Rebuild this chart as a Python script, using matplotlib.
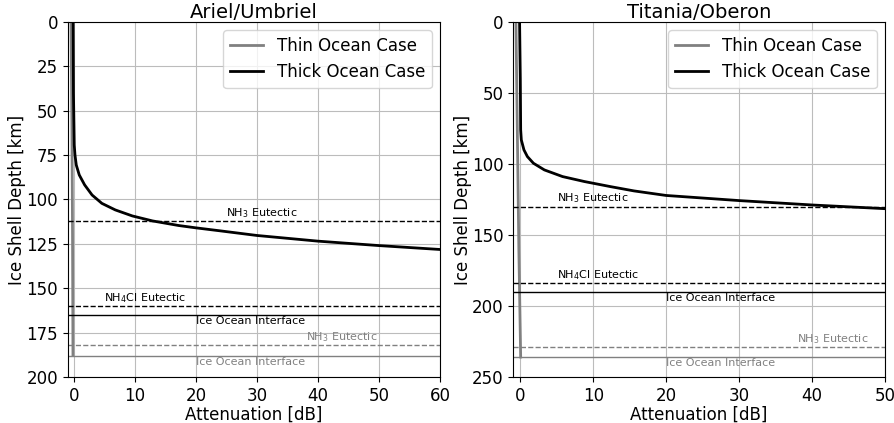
import matplotlib
matplotlib.use("Agg")
import matplotlib.pyplot as plt

# Ariel/Umbriel: attenuation [dB] vs depth [km]
au_thin_att = [-0.45, -0.3, -0.2, -0.13]
au_thin_depth = [0, 60, 120, 188]
au_thick_att = [-0.1, -0.05, 0.08, 0.2, 0.41, 0.9, 1.78, 3.0, 4.6, 6.8, 9.6, 12.9,
                17.2, 20, 24, 30, 40, 50, 60]
au_thick_depth = [0, 40, 69.3, 75, 80.6, 86.2, 91.8, 97.5, 102.2, 105.9, 109.3, 112.1,
                  114.7, 116, 117.7, 120.3, 123.5, 126, 128.2]

# Titania/Oberon
to_thin_att = [-0.6, -0.4, -0.2, 0.05]
to_thin_depth = [0, 80, 160, 236]
to_thick_att = [-0.1, 0.0, 0.05, 0.14, 0.5, 0.97, 1.8, 3.3, 5.8, 8.8, 12.4, 15.6,
                20, 30, 40, 50]
to_thick_depth = [0, 40, 76, 83.1, 90.1, 94.8, 99.5, 104.2, 108.9, 112.4, 116, 119,
                  122.2, 125.8, 128.9, 131.5]

# horizontal markers: (depth, label, colour, style, label x, above/below)
au_levels = [
    (112, r"NH$_3$ Eutectic", "black", "--", 25, "above"),
    (160, r"NH$_4$Cl Eutectic", "black", "--", 5, "above"),
    (165, "Ice Ocean Interface", "black", "-", 20, "below"),
    (182, r"NH$_3$ Eutectic", "gray", "--", 38, "above"),
    (188, "Ice Ocean Interface", "gray", "-", 20, "below"),
]
to_levels = [
    (130, r"NH$_3$ Eutectic", "black", "--", 5, "above"),
    (184, r"NH$_4$Cl Eutectic", "black", "--", 5, "above"),
    (190, "Ice Ocean Interface", "black", "-", 20, "below"),
    (229, r"NH$_3$ Eutectic", "gray", "--", 38, "above"),
    (236, "Ice Ocean Interface", "gray", "-", 20, "below"),
]

fig = plt.figure(figsize=(8.95, 4.23), dpi=100)
ax1 = fig.add_axes([0.0756, 0.109, 0.4160, 0.839])
ax2 = fig.add_axes([0.5732, 0.109, 0.4156, 0.839])


def panel(ax, title, thin_x, thin_y, thick_x, thick_y, levels, xmax, ymax, ystep, off):
    ax.plot(thin_x, thin_y, color="gray", lw=2, label="Thin Ocean Case")
    ax.plot(thick_x, thick_y, color="black", lw=2, label="Thick Ocean Case")
    for d, txt, c, ls, tx, pos in levels:
        ax.axhline(d, color=c, ls=ls, lw=1)
        if pos == "above":
            ax.text(tx, d - off, txt, color=c, fontsize=8, va="bottom")
        else:
            ax.text(tx, d + off, txt, color=c, fontsize=8, va="top")
    ax.set_xlim(-1, xmax)
    ax.set_ylim(ymax, 0)
    ax.set_yticks(range(0, ymax + 1, ystep))
    ax.set_xticks(range(0, xmax + 1, 10))
    ax.tick_params(labelsize=12)
    ax.grid(True, color="#bcbcbc")
    ax.set_title(title, fontsize=14, pad=1)
    ax.set_xlabel("Attenuation [dB]", fontsize=12, labelpad=1)
    ax.set_ylabel("Ice Shell Depth [km]", fontsize=12)
    ax.yaxis.set_label_coords(-0.111, 0.5)
    ax.legend(loc="upper right", fontsize=12)


panel(ax1, "Ariel/Umbriel", au_thin_att, au_thin_depth, au_thick_att, au_thick_depth,
      au_levels, 60, 200, 25, 0.6)
panel(ax2, "Titania/Oberon", to_thin_att, to_thin_depth, to_thick_att, to_thick_depth,
      to_levels, 50, 250, 50, 0.75)

fig.savefig("out.png", dpi=100)
